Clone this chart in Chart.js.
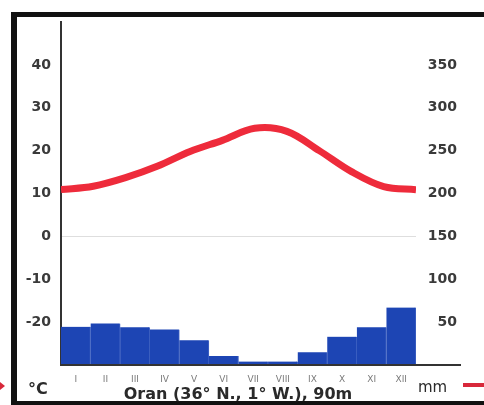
<!DOCTYPE html>
<html>
<head>
<meta charset="utf-8">
<script src="https://cdn.jsdelivr.net/npm/chart.js@4/dist/chart.umd.min.js"></script>
<style>
  html, body { margin: 0; padding: 0; background: #fff; }
  #wrap { width: 484px; height: 405px; position: relative; }
</style>
</head>
<body>
<div id="wrap"><canvas id="climo"></canvas></div>
<script>
// Oran climograph data
const months    = ['I','II','III','IV','V','VI','VII','VIII','IX','X','XI','XII'];
const tempC     = [10.9, 11.7, 13.7, 16.4, 19.8, 22.4, 25.2, 24.5, 20.0, 15.1, 11.6, 10.9];
const precipMm  = [44.5, 48.5, 44, 41.5, 29, 10.5, 4, 4, 15, 33, 44, 67];
const tempTicks = [-30, -20, -10, 0, 10, 20, 30, 40, 50];
const mmTicks   = [0, 50, 100, 150, 200, 250, 300, 350, 400];
const caption   = 'Oran (36° N., 1° W.), 90m';

const LABEL_FONT = 'DejaVu Sans';

// frame, baseline and bottom texts
const decor = {
  id: 'decor',
  beforeDraw(chart) {
    const c = chart.ctx;
    c.save();
    c.fillStyle = '#fff';
    c.fillRect(0, 0, chart.width, chart.height);
    c.restore();
  },
  afterDraw(chart) {
    const c = chart.ctx;
    const a = chart.chartArea;
    c.save();
    // outer frame
    c.fillStyle = '#111';
    c.fillRect(11, 12, 473, 5);
    c.fillRect(11, 12, 6, 393);
    c.fillRect(11, 401, 473, 4);
    // baseline
    c.strokeStyle = '#333';
    c.lineWidth = 2;
    c.beginPath();
    c.moveTo(a.left, a.bottom);
    c.lineTo(461, a.bottom);
    c.stroke();
    // texts
    c.fillStyle = '#2a2a2a';
    c.textBaseline = 'middle';
    c.font = 'bold 16px ' + LABEL_FONT;
    c.textAlign = 'left';
    c.fillText('°C', 28, 390);
    c.font = '15px ' + LABEL_FONT;
    c.fillText('mm', 418, 388);
    c.textAlign = 'center';
    c.font = 'bold 16px ' + LABEL_FONT;
    c.fillText(caption, 238, 395);
    // legend fragments at the edges
    c.fillStyle = '#d8283a';
    c.fillRect(463, 383, 21, 4);
    c.beginPath();
    c.moveTo(0, 382); c.lineTo(5, 386); c.lineTo(0, 390); c.closePath();
    c.fill();
    c.restore();
  }
};

const ctx = document.getElementById('climo').getContext('2d');
new Chart(ctx, {
  type: 'bar',
  data: {
    labels: months,
    datasets: [
      {
        type: 'line',
        data: tempC.map((t, i) => ({ x: i, y: t })),
        xAxisID: 'xLine',
        yAxisID: 'yT',
        borderColor: '#ee2b3b',
        borderWidth: 7,
        pointRadius: 0,
        tension: 0.35,
        borderCapStyle: 'butt',
        order: 0
      },
      {
        type: 'bar',
        data: precipMm,
        xAxisID: 'x',
        yAxisID: 'yMm',
        backgroundColor: '#1d45b4',
        borderColor: '#4466c4',
        borderWidth: { left: 0, right: 1, top: 0, bottom: 0 },
        grouped: false,
        barPercentage: 1,
        categoryPercentage: 1,
        order: 1
      }
    ]
  },
  options: {
    responsive: true,
    maintainAspectRatio: false,
    animation: false,
    layout: { padding: { top: 22, right: 27, left: 0, bottom: 0 } },
    plugins: { legend: { display: false }, tooltip: { enabled: false } },
    scales: {
      x: {
        type: 'category',
        offset: true,
        grid: { display: false, drawTicks: false },
        border: { display: false },
        ticks: {
          color: '#7a7a7a',
          font: { family: LABEL_FONT, size: 9 },
          padding: 9,
          maxRotation: 0,
          autoSkip: false
        },
        afterFit(scale) { scale.height = 40; }
      },
      xLine: {
        type: 'linear',
        position: 'bottom',
        offset: false,
        grid: { offset: false },
        min: 0,
        max: months.length - 1,
        display: false
      },
      yT: {
        type: 'linear',
        position: 'left',
        min: tempTicks[0],
        max: tempTicks[tempTicks.length - 1],
        afterBuildTicks(scale) { scale.ticks = tempTicks.map(v => ({ value: v })); },
        grid: {
          drawTicks: false,
          color: ctx => ctx.tick && ctx.tick.value === 0 ? 'rgba(160,160,160,0.35)' : 'rgba(0,0,0,0)',
          lineWidth: 1
        },
        border: { display: true, color: '#333', width: 2 },
        ticks: {
          color: '#3a3a3a',
          font: { family: LABEL_FONT, size: 14, weight: 'bold' },
          padding: 10,
          callback: v => (v === 50 || v === -30) ? '' : v
        },
        afterFit(scale) { scale.width = 61; }
      },
      yMm: {
        type: 'linear',
        position: 'right',
        min: mmTicks[0],
        max: mmTicks[mmTicks.length - 1],
        afterBuildTicks(scale) { scale.ticks = mmTicks.map(v => ({ value: v })); },
        grid: { display: false, drawTicks: false },
        border: { display: false },
        ticks: {
          color: '#3a3a3a',
          font: { family: LABEL_FONT, size: 14, weight: 'bold' },
          crossAlign: 'far',
          padding: 0,
          callback: v => (v === 0 || v === 400) ? '' : v
        },
        afterFit(scale) { scale.width = 41; }
      }
    }
  },
  plugins: [decor]
});
</script>
</body>
</html>
